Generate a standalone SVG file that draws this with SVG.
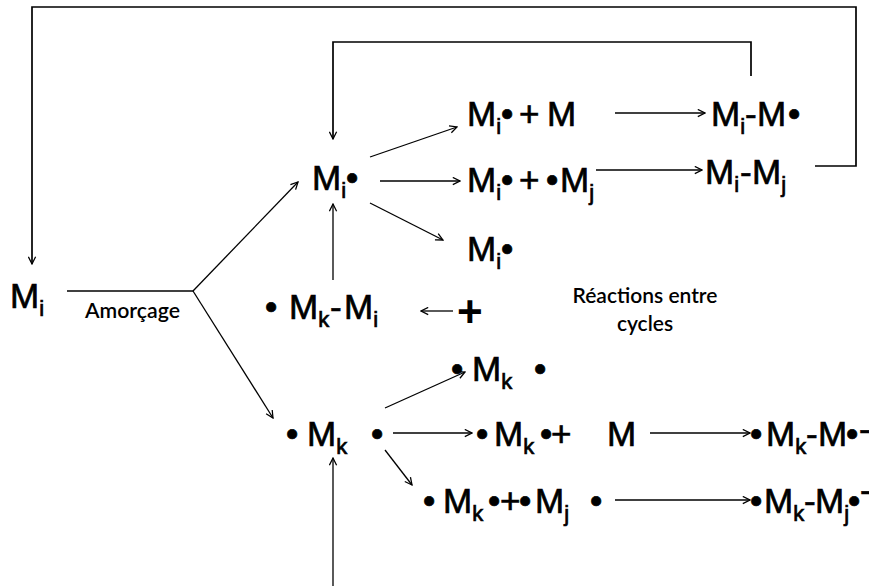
<svg xmlns="http://www.w3.org/2000/svg" width="869" height="586" viewBox="0 0 869 586">
<defs>
<style>
.f{font-family:"Liberation Sans",Arial,sans-serif;font-size:35px;fill:#000;stroke:#000;stroke-width:0.7}
.s{font-size:22px}
.p{font-family:"Liberation Sans",Arial,sans-serif;font-size:44px;font-weight:bold;fill:#000}
.l{font-family:Lato,"Liberation Sans",sans-serif;font-size:21px;font-weight:600;fill:#000}
.c{fill:none;stroke:#000;stroke-width:1.7}
.a{fill:none;stroke:#000;stroke-width:1.3;marker-end:url(#ah)}
</style>
<marker id="ah" viewBox="0 0 10 10" refX="9" refY="5" markerWidth="9" markerHeight="9" markerUnits="userSpaceOnUse" orient="auto">
<path d="M1,1 L9,5 L1,9" fill="none" stroke="#000" stroke-width="1.4"/>
</marker>
</defs>
<rect width="869" height="586" fill="#fff"/>
<g id="connectors">
<polyline class="c" points="815,166 856,166 856,7 32,7 32,264" marker-end="url(#ah)"/>
<polyline class="c" points="751,76 751,42 333,42 333,139" marker-end="url(#ah)"/>
<line class="c" x1="67" y1="291" x2="193" y2="291"/>
<line class="a" x1="193" y1="291" x2="298" y2="182"/>
<line class="a" x1="193" y1="291" x2="273" y2="418"/>
<line class="a" x1="370" y1="157" x2="457" y2="127"/>
<line class="a" x1="380" y1="181" x2="460" y2="181"/>
<line class="a" x1="370" y1="203" x2="443" y2="240"/>
<line class="a" x1="615" y1="113" x2="705" y2="113"/>
<line class="a" x1="596" y1="170" x2="702" y2="170"/>
<line class="a" x1="333" y1="280" x2="333" y2="204"/>
<line class="a" x1="453" y1="311" x2="421" y2="311"/>
<line class="a" x1="385" y1="408" x2="465" y2="372"/>
<line class="a" x1="393" y1="433" x2="472" y2="433"/>
<line class="a" x1="385" y1="450" x2="412" y2="485"/>
<line class="a" x1="650" y1="433" x2="750" y2="433"/>
<line class="a" x1="615" y1="500" x2="750" y2="500"/>
<line class="a" x1="333" y1="586" x2="333" y2="458"/>
</g>
<g id="n-mi">
<text class="f" x="10" y="308">M<tspan class="s" y="316">i</tspan></text>
</g>
<g id="n-amorcage">
<text class="l" x="85" y="318" font-size="20" textLength="95" lengthAdjust="spacingAndGlyphs">Amorçage</text>
</g>
<g id="n-mi-rad">
<text class="f" x="312" y="190">M<tspan class="s" y="198">i</tspan><tspan x="346" y="190">•</tspan></text>
</g>
<g id="n-row1">
<text class="f" x="467" y="126">M<tspan class="s" y="134">i</tspan><tspan x="501" y="126">•</tspan><tspan x="519">+</tspan><tspan x="547">M</tspan></text>
</g>
<g id="n-mim">
<text class="f" x="711" y="126">M<tspan class="s" y="134">i</tspan><tspan x="745" y="126">-</tspan><tspan x="757">M</tspan><tspan x="788">•</tspan></text>
</g>
<g id="n-row2">
<text class="f" x="467" y="192">M<tspan class="s" y="200">i</tspan><tspan x="501" y="192">•</tspan><tspan x="519">+</tspan><tspan x="546">•</tspan><tspan x="560">M</tspan><tspan class="s" y="200">j</tspan></text>
</g>
<g id="n-mimj">
<text class="f" x="705" y="184">M<tspan class="s" y="192">i</tspan><tspan x="740" y="184">-</tspan><tspan x="752">M</tspan><tspan class="s" y="192">j</tspan></text>
</g>
<g id="n-row3">
<text class="f" x="467" y="261">M<tspan class="s" y="269">i</tspan><tspan x="501" y="261">•</tspan></text>
</g>
<g id="n-mkmi">
<text class="f" x="265" y="319">•<tspan x="289">M</tspan><tspan class="s" y="327">k</tspan><tspan x="330" y="319">-</tspan><tspan x="344">M</tspan><tspan class="s" y="327">i</tspan></text>
</g>
<g id="n-plus">
<text class="p" x="457" y="327">+</text>
</g>
<g id="n-reactions">
<text class="l" x="645" y="303" text-anchor="middle">Réactions entre</text>
<text class="l" x="645" y="331" text-anchor="middle">cycles</text>
</g>
<g id="n-mk-top">
<text class="f" x="451" y="381">•<tspan x="472">M</tspan><tspan class="s" y="389">k</tspan><tspan x="534" y="381">•</tspan></text>
</g>
<g id="n-mk">
<text class="f" x="286" y="446">•<tspan x="307">M</tspan><tspan class="s" y="454">k</tspan><tspan x="371" y="446">•</tspan></text>
</g>
<g id="n-mk-m">
<text class="f" x="476" y="446">•<tspan x="494">M</tspan><tspan class="s" y="454">k</tspan><tspan x="540" y="446">•</tspan><tspan x="551">+</tspan><tspan x="607">M</tspan></text>
</g>
<g id="n-mkm">
<text class="f" x="750" y="446">•<tspan x="766">M</tspan><tspan class="s" y="454">k</tspan><tspan x="806" y="446">-</tspan><tspan x="818">M</tspan><tspan x="846">•</tspan></text>
<text class="f" x="859" y="441" font-size="24">-</text>
</g>
<g id="n-mk-mj">
<text class="f" x="423" y="513">•<tspan x="443">M</tspan><tspan class="s" y="521">k</tspan><tspan x="488" y="513">•</tspan><tspan x="500">+</tspan><tspan x="519">•</tspan><tspan x="535">M</tspan><tspan class="s" y="521">j</tspan><tspan x="590" y="513">•</tspan></text>
</g>
<g id="n-mkmj">
<text class="f" x="750" y="513">•<tspan x="764">M</tspan><tspan class="s" y="521">k</tspan><tspan x="804" y="513">-</tspan><tspan x="815">M</tspan><tspan class="s" y="521">j</tspan><tspan x="848" y="513">•</tspan></text>
<text class="f" x="860" y="502" font-size="20">-</text>
</g>
</svg>
